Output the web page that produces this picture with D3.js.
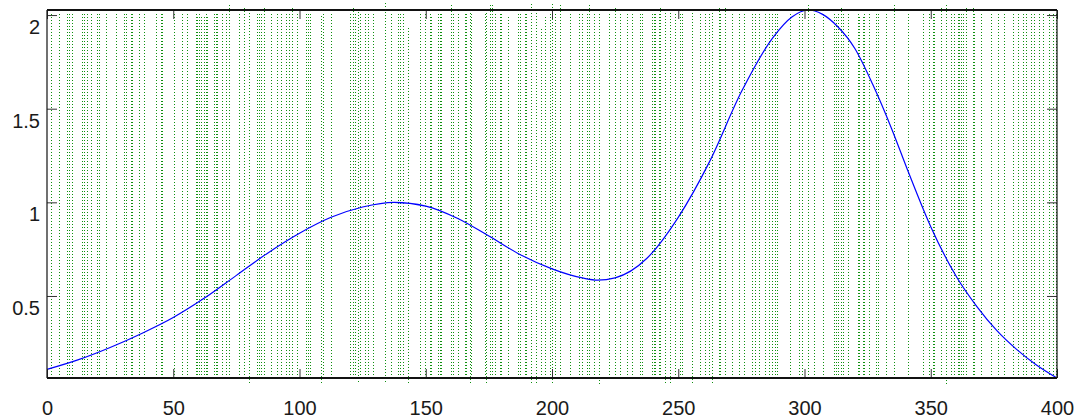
<!DOCTYPE html>
<html>
<head>
<meta charset="utf-8">
<script src="https://cdn.jsdelivr.net/npm/d3@7"></script>
<style>
  body { margin: 0; background: #fff; }
  .tick text { font-family: "Liberation Sans", Arial, sans-serif; font-size: 20px; fill: #1a1a1a; }
</style>
</head>
<body>
<svg id="chart" width="1078" height="419"></svg>
<script>
// x positions of the dotted green sample lines
var lineX = [
  1.5, 4.8, 8.0, 8.7, 10.0, 14.0, 14.7, 16.0, 17.3, 19.9, 20.6, 23.2, 27.2, 30.5, 31.2,
  33.1, 33.8, 36.4, 38.4, 43.0, 45.0, 45.7, 50.3, 53.6, 55.6, 58.9, 59.5, 60.2, 60.9,
  62.2, 62.8, 63.5, 66.1, 66.8, 67.5, 69.4, 70.8, 72.1, 76.0, 78.0, 80.0, 83.3, 84.0,
  84.6, 85.9, 88.6, 91.2, 92.6, 94.5, 95.8, 97.1, 99.1,
  102.7, 103.4, 104.0, 108.6, 109.3, 112.6, 119.9, 121.2, 121.9, 123.2, 123.8, 125.8,
  127.1, 129.1, 133.7, 136.4, 139.0, 139.7, 141.0, 143.0, 147.6, 149.6, 151.6, 152.2,
  154.9, 155.5, 156.2, 160.1, 160.8, 162.8, 165.4, 166.1, 167.4, 168.0, 173.3, 174.0,
  175.3, 176.4, 177.3, 179.3, 179.9, 182.6, 186.5, 187.2, 189.2, 189.8, 191.8, 193.8,
  195.8, 197.1, 199.1,
  200.0, 201.3, 203.3, 207.2, 210.6, 211.9, 213.9, 214.5, 216.5, 218.5, 222.5, 225.1,
  227.1, 229.7, 231.7, 235.0, 235.6, 239.6, 240.3, 240.9, 242.3, 242.9, 244.9, 246.9,
  248.8, 250.8, 251.5, 255.4, 258.7, 260.7, 262.1, 263.4, 266.0, 266.7, 268.6, 271.3,
  273.9, 275.9, 279.2, 280.5, 281.9, 284.5, 285.8, 287.1, 288.4, 289.1, 294.4, 297.7,
  299.0,
  301.3, 303.9, 307.2, 311.8, 312.5, 313.1, 314.5, 315.1, 317.1, 321.1, 321.7, 323.0,
  323.7, 325.7, 328.3, 329.0, 332.3, 335.6, 340.9, 346.8, 349.4, 350.8, 351.4, 354.1,
  356.0, 358.0, 359.3, 360.7, 361.3, 362.0, 362.7, 364.0, 366.6, 367.2, 369.9, 373.9,
  376.5, 379.1, 382.4, 384.4, 386.4, 387.7, 389.7, 391.0, 393.0, 394.4, 397.0, 398.4, 399.7
];

// lines whose top end pokes above the frame [x, top]
var tallLines = [
  [71.8, 2.059], [77.7, 2.043], [85.6, 2.037], [96.9, 2.037], [120.7, 2.037],
  [133.9, 2.064], [160.3, 2.059], [174.8, 2.059], [176.4, 2.064], [191.3, 2.064],
  [200.3, 2.064], [203.2, 2.059], [214.4, 2.059], [225.0, 2.043], [243.4, 2.043],
  [265.2, 2.043], [269.2, 2.043], [301.5, 2.059], [314.7, 2.043], [335.8, 2.059],
  [354.7, 2.043], [356.6, 2.064], [364.2, 2.043], [366.6, 2.037]
];
// lines whose top end stops short of the frame [x, top]
var shortLines = [
  [143.1, 1.93], [195.9, 1.93], [153.0, 1.995], [108.9, 2.0], [182.6, 1.995],
  [197.9, 1.99], [59.5, 2.0], [60.9, 2.0], [62.2, 2.0], [63.5, 2.0], [312.7, 1.995],
  [322.0, 1.995], [323.0, 1.995]
];
// lines whose bottom end pokes below the frame [x, bottom]
var lowLines = [
  [79.7, 0.035], [108.9, 0.035], [122.9, 0.04], [133.9, 0.04], [143.1, 0.035],
  [167.1, 0.035], [173.7, 0.035], [191.3, 0.035], [193.9, 0.035], [200.5, 0.035],
  [218.3, 0.03], [245.4, 0.035], [247.4, 0.035], [255.3, 0.035], [263.2, 0.035],
  [356.6, 0.03]
];

// blue curve
var curveX = [0, 12.5, 25, 37.5, 50, 62.5, 75, 87.5, 100, 112.5, 125, 137.5, 150, 162.5,
  175, 187.5, 200, 212.5, 218, 225, 237.5, 250, 262.5, 275, 287.5, 295, 301.5, 307, 313,
  320, 327, 334.3, 340.9, 350, 360.3, 368.2, 376.2, 384, 392, 400];
var curveY = [0.108, 0.16, 0.225, 0.30, 0.385, 0.49, 0.61, 0.73, 0.835, 0.92, 0.975, 1.0, 0.98, 0.915,
  0.82, 0.72, 0.645, 0.595, 0.585, 0.597, 0.70, 0.92, 1.22, 1.59, 1.88, 1.99, 2.027, 2.005, 1.94,
  1.82, 1.63, 1.40, 1.17, 0.87, 0.60, 0.445, 0.315, 0.215, 0.13, 0.062];

var xTicks = [0, 50, 100, 150, 200, 250, 300, 350, 400];
var yTicks = [0.5, 1, 1.5, 2];

var m = { left: 47, right: 21, top: 10, bottom: 41 };
var W = 1078, H = 419;

var svg = d3.select("#chart");
var g = svg.append("g").attr("transform", "translate(" + m.left + "," + m.top + ")");
var w = W - m.left - m.right, h = H - m.top - m.bottom;

var x = d3.scaleLinear().domain([0, 400]).range([0, w]);
var y = d3.scaleLinear().domain([0.062, 2.027]).range([h, 0]);

function nearest(v) {
  var best = 0;
  lineX.forEach(function(d, i) { if (Math.abs(d - v) < Math.abs(lineX[best] - v)) best = i; });
  return best;
}

var lines = lineX.map(function(d) { return { x: d, lo: 0.062, hi: 2.018 }; });
tallLines.forEach(function(d) { lines[nearest(d[0])].hi = d[1]; });
shortLines.forEach(function(d) { lines[nearest(d[0])].hi = d[1]; });
lowLines.forEach(function(d) { lines[nearest(d[0])].lo = d[1]; });

// snap to pixel centres so the dots stay crisp
function px(v) { return Math.round(x(v)) + 0.5; }

g.selectAll(".rug")
  .data(lines)
  .enter().append("line")
    .attr("class", "rug")
    .attr("x1", function(d) { return px(d.x); })
    .attr("x2", function(d) { return px(d.x); })
    .attr("y1", function(d) { return Math.round(y(d.lo)); })
    .attr("y2", function(d) { return Math.round(y(d.hi)); })
    .attr("stroke", "#109010")
    .attr("stroke-width", 1)
    .attr("stroke-dasharray", "1,2");

var pts = curveX.map(function(d, i) { return [d, curveY[i]]; });
g.append("path")
  .datum(pts)
  .attr("fill", "none")
  .attr("stroke", "#0000ff")
  .attr("stroke-width", 1.2)
  .attr("d", d3.line()
      .x(function(d) { return x(d[0]); })
      .y(function(d) { return y(d[1]); })
      .curve(d3.curveMonotoneX));

// axes with inward ticks
var xb = g.append("g").attr("transform", "translate(0," + h + ")")
  .call(d3.axisBottom(x).tickValues(xTicks).tickSize(-9).tickPadding(23));
var xt = g.append("g")
  .call(d3.axisTop(x).tickValues(xTicks).tickSize(-9).tickFormat(""));
var yl = g.append("g")
  .call(d3.axisLeft(y).tickValues(yTicks).tickSize(-10).tickPadding(7).tickFormat(d3.format("")));
var yr = g.append("g").attr("transform", "translate(" + w + ",0)")
  .call(d3.axisRight(y).tickValues(yTicks).tickSize(-10).tickFormat(""));

[xb, xt, yl, yr].forEach(function(a) {
  a.select(".domain").remove();
  a.selectAll(".tick line").attr("stroke", "#333");
});
yl.selectAll(".tick text").attr("y", 12);

// frame
g.append("line").attr("x1", 0).attr("x2", w).attr("y1", 0).attr("y2", 0)
  .attr("stroke", "#111").attr("stroke-width", 2);
g.append("line").attr("x1", 0).attr("x2", w).attr("y1", h).attr("y2", h)
  .attr("stroke", "#111").attr("stroke-width", 2);
g.append("line").attr("x1", 0).attr("x2", 0).attr("y1", 0).attr("y2", h)
  .attr("stroke", "#111").attr("stroke-width", 1.2);
g.append("line").attr("x1", w).attr("x2", w).attr("y1", 0).attr("y2", h)
  .attr("stroke", "#111").attr("stroke-width", 1.2);
</script>
</body>
</html>
